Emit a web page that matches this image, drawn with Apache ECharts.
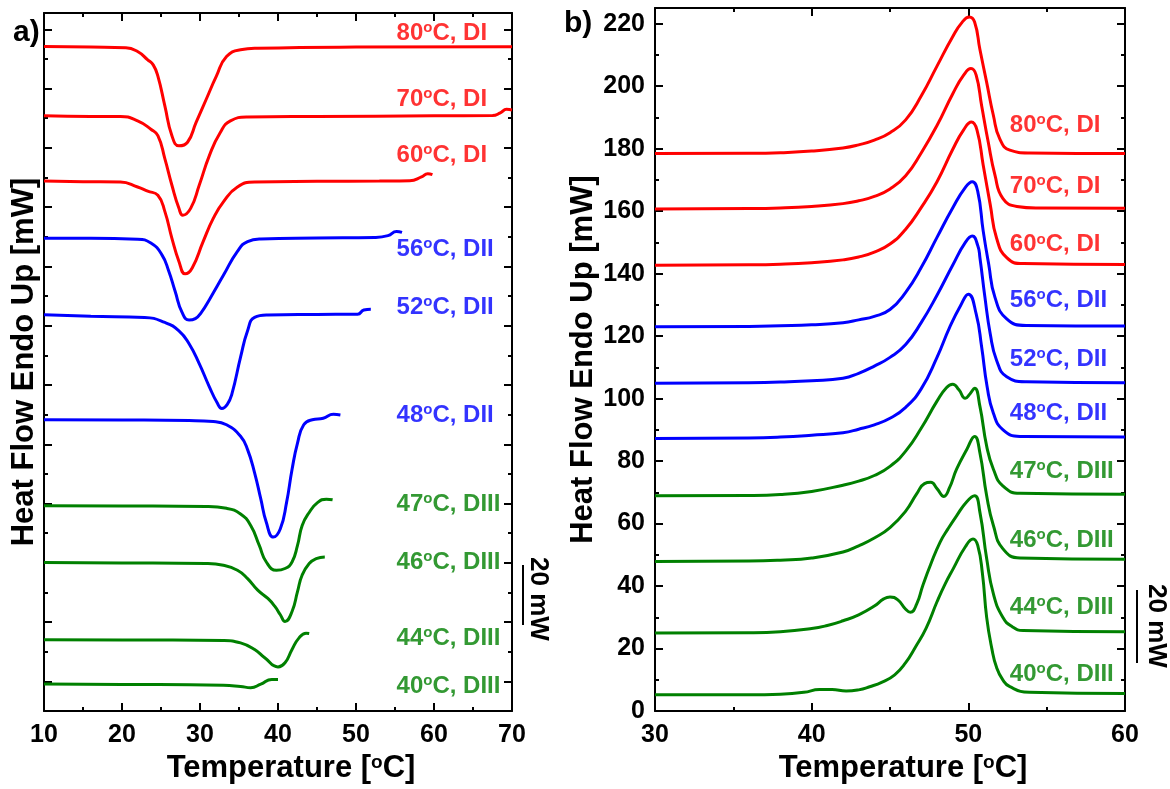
<!DOCTYPE html>
<html>
<head>
<meta charset="utf-8">
<script src="https://cdn.jsdelivr.net/npm/echarts@6/dist/echarts.min.js"></script>
<style>
  html, body { margin: 0; padding: 0; background: #fff; }
  #main { width: 1170px; height: 789px; }
</style>
</head>
<body>
<div id="main"></div>
<script>
// curve names (top to bottom)
var temps = ['80', '70', '60', '56', '52', '48', '47', '46', '44', '40'];
var phases = ['DI', 'DI', 'DI', 'DII', 'DII', 'DII', 'DIII', 'DIII', 'DIII', 'DIII'];

// a) cooling scans: [temperature, heat flow (offset, arb. units)]
var a80 = [[10,224.2],[16,224.0],[20.5,223.8],[22,222.5],[23.3,219.7],[24.0,218.0],[24.6,214.2],[25.5,204.1],[26.4,194.1],[27.3,190.7],[28.4,191.9],[29.5,198.6],[30.8,206.4],[32.1,214.2],[33.4,220.8],[35.2,223.1],[37.4,223.6],[50,224.0],[70,224.1]];
var a70 = [[10,200.8],[16,200.6],[19.8,200.6],[22,199.1],[23.7,196.3],[24.6,194.1],[25.5,186.3],[26.4,177.4],[27.3,169.6],[27.8,167.3],[28.8,169.6],[29.9,177.4],[31.2,187.4],[32.6,195.2],[33.9,199.1],[36.1,200.4],[45,200.6],[60,200.8],[67.5,200.9],[68.5,201.8],[69.3,203.0],[70,202.8]];
var a60 = [[10,178.8],[15,178.6],[19.8,178.5],[22,176.8],[23.3,175.4],[24.6,174.0],[25.5,168.5],[26.4,159.5],[27.3,151.7],[28.1,147.5],[29.0,149.5],[30.4,158.4],[31.7,166.2],[33.0,171.8],[34.8,176.8],[37.0,178.5],[45,178.7],[53,178.8],[56.9,178.9],[58.4,180.2],[59.2,181.3],[59.8,181.0]];
var a56 = [[10,159.5],[16,159.5],[22,159.2],[23.7,157.9],[25.1,154.0],[26.0,148.4],[26.8,141.7],[27.7,134.5],[28.6,131.9],[29.4,132.4],[30.2,134.6],[31.2,138.8],[33.0,147.0],[34.8,155.1],[36.1,158.4],[37.8,159.3],[45,159.6],[52.4,159.8],[54.1,160.4],[55.2,161.8],[55.9,161.5]];
var a52 = [[10,133.7],[16,133.2],[22.9,132.8],[25.5,131.1],[27.3,128.3],[28.6,123.9],[29.9,117.2],[31.2,109.4],[32.2,104.0],[32.8,102.1],[33.5,103.5],[34.1,107.1],[35.2,119.4],[36.1,128.3],[37.0,132.8],[38.7,133.6],[45,133.8],[50.2,133.9],[51.0,135.3],[51.9,135.6]];
var a48 = [[10,98.3],[20,98.2],[28.6,98.0],[31.7,97.7],[33.4,96.6],[35.2,92.7],[36.1,88.2],[37.0,80.4],[37.8,71.5],[38.5,63.7],[39.4,58.7],[40.3,61.5],[41.1,70.4],[41.8,81.5],[42.5,90.4],[43.3,96.6],[44.4,98.3],[45.8,98.8],[47.1,100.1],[48.0,99.9]];
var a47 = [[10,69.3],[20,69.2],[30.8,69.0],[33.4,68.4],[35.2,66.5],[36.5,62.6],[37.6,55.9],[38.5,50.3],[39.8,47.5],[40.9,48.1],[41.8,50.3],[42.5,55.9],[43.1,62.6],[44.0,67.0],[45.1,70.4],[46.2,71.5],[47.0,71.3]];
var a46 = [[10,50.1],[20,50.0],[30.8,49.8],[33.0,49.2],[34.8,47.5],[36.1,44.7],[37.4,40.8],[38.7,38.0],[39.6,35.3],[40.3,32.5],[40.9,30.2],[41.8,33.6],[42.5,40.3],[43.1,45.9],[44.0,49.8],[44.9,51.4],[46.0,52.0]];
var a44 = [[10,24.1],[20,24.0],[33.0,23.8],[35.2,23.0],[37.0,20.8],[38.3,18.0],[40.0,14.9],[40.9,16.3],[41.8,20.8],[42.7,24.7],[43.6,26.3],[44.0,26.2]];
var a40 = [[10,9.1],[20,9.0],[33.0,8.7],[35.2,8.3],[36.5,7.9],[37.8,9.1],[39.2,10.7],[40.0,10.7]];

// b) heating scans: [temperature, heat flow in mW]
var b80 = [[30,178.4],[36,178.5],[38,178.7],[40,179.2],[42,180.2],[43,181.2],[44,182.7],[45,185.1],[46,189.2],[47,196.9],[48,206.4],[49,215.8],[49.6,220.4],[50.06,222.1],[50.4,220.5],[50.74,211.7],[51.17,201.2],[51.6,190.6],[52.0,183.2],[52.65,179.5],[53.9,178.6],[60,178.4]];
var b70 = [[30,160.7],[36,160.8],[38,161.0],[40,161.5],[42,162.4],[43,163.3],[44,164.7],[45,167.1],[46,171.3],[47,178.7],[48,187.4],[49,197.5],[49.7,203.5],[50.17,205.6],[50.5,203.5],[50.85,193.7],[51.27,182.1],[51.7,171.5],[52.2,164.1],[53.1,161.5],[54.4,161.0],[60,160.9]];
var b60 = [[30,142.7],[36,142.8],[38,143.0],[40,143.5],[42,144.4],[43,145.3],[44,146.9],[45,149.5],[46,154.2],[47,161.2],[48,169.4],[49,179.7],[49.7,186.0],[50.2,188.5],[50.55,186.0],[50.95,174.7],[51.4,162.0],[51.8,151.4],[52.45,145.1],[53.5,143.2],[60,142.9]];
var b56 = [[30,123.0],[36,123.1],[38,123.3],[40,123.6],[42,124.3],[43,125.2],[44,126.3],[45,128.5],[46,134.0],[47,142.0],[48,151.6],[49,161.0],[49.8,167.5],[50.25,169.4],[50.6,166.3],[50.95,153.6],[51.3,143.0],[51.7,132.4],[52.45,125.5],[53.7,123.4],[60,123.2]];
var b52 = [[30,104.9],[36,105.1],[38,105.3],[40,105.7],[42,106.5],[43,108.1],[44,110.4],[45,113.2],[46,117.3],[47,124.4],[48,133.1],[49,142.7],[49.8,149.9],[50.25,152.0],[50.6,149.0],[50.74,145.1],[51.06,132.4],[51.4,120.7],[51.8,112.3],[52.45,107.0],[53.7,105.4],[60,105.1]];
var b48 = [[30,87.2],[36,87.4],[38,87.7],[40,88.3],[42,89.1],[43,90.2],[44,91.6],[45,93.7],[46,97.2],[47,103.2],[48,113.2],[48.8,122.7],[49.5,129.7],[50.0,133.4],[50.5,127.1],[50.85,116.5],[51.2,103.8],[51.6,95.3],[52.2,90.1],[53.3,87.9],[60,87.7]];
var b47 = [[30,68.9],[36,69.0],[38,69.3],[40,70.3],[42,72.3],[43,73.6],[44,75.4],[45,78.3],[46,83.2],[47,90.6],[48,99.2],[48.6,103.5],[49.0,104.6],[49.4,102.8],[49.8,100.1],[50.1,101.5],[50.4,103.3],[50.74,97.5],[51.17,84.8],[51.6,77.4],[52.2,72.1],[53.3,69.7],[60,69.4]];
var b46 = [[30,47.9],[36,48.0],[38,48.3],[40,49.0],[42,50.9],[43,52.9],[44,55.4],[45,58.7],[46,64.0],[46.7,69.5],[47.2,72.8],[47.6,73.2],[48.0,71.2],[48.44,68.7],[48.8,71.5],[49.25,77.4],[49.9,83.7],[50.4,87.9],[50.74,82.6],[51.17,68.9],[51.6,59.4],[52.2,52.0],[53.3,49.0],[60,48.6]];
var b44 = [[30,25.0],[36,25.1],[38,25.4],[40,26.4],[41,27.4],[42,28.9],[43,30.8],[44,33.6],[44.6,35.9],[45.0,36.5],[45.5,35.6],[46.0,32.6],[46.3,31.6],[46.7,34.2],[47.1,40.3],[47.6,47.0],[48.2,54.1],[48.7,58.3],[49.25,62.5],[49.9,67.0],[50.4,68.9],[50.74,63.6],[51.17,48.8],[51.6,37.5],[52.2,30.0],[52.8,27.0],[53.5,25.8],[60,25.4]];
var b40 = [[30,5.2],[36,5.2],[38,5.4],[39.5,6.0],[40.5,6.9],[41.3,6.9],[42.2,6.4],[43.0,6.8],[43.7,7.8],[44.5,9.3],[45.3,11.6],[46.0,15.5],[46.6,20.3],[47.3,26.5],[48.0,35.0],[48.5,40.5],[49.04,45.6],[49.8,52.5],[50.3,55.1],[50.6,53.0],[50.9,44.0],[51.17,30.0],[51.5,20.0],[51.8,14.0],[52.2,10.0],[52.65,7.8],[53.9,6.0],[60,5.6]];

// where the curve names sit (left edge temperature, vertical centre)
var aLabelT = 55.2;
var aLabelY = [228.7, 206.4, 187.4, 155.6, 136.1, 99.9, 69.8, 50.3, 24.6, 8.4];
var bLabelT = 52.65;
var bLabelY = [187.3, 167.9, 149.2, 131.4, 112.7, 95.2, 76.8, 54.6, 33.3, 11.7];

// axis ticks
var aYMajor = [10, 30, 50, 70, 90, 110, 130, 150, 170, 190, 210, 230];
var aYMinor = [20, 40, 60, 80, 100, 120, 140, 160, 180, 200, 220];
var bYMajor = [0, 20, 40, 60, 80, 100, 120, 140, 160, 180, 200, 220];
var bYMinor = [10, 30, 50, 70, 90, 110, 130, 150, 170, 190, 210];

var aCurves = [a80, a70, a60, a56, a52, a48, a47, a46, a44, a40];
var bCurves = [b80, b70, b60, b56, b52, b48, b47, b46, b44, b40];

var FONT = 'Liberation Sans, Arial, sans-serif';
var phaseColor = { DI: '#ff0000', DII: '#0000ff', DIII: '#008000' };
var axisLine = { show: true, onZero: false, lineStyle: { color: '#000', width: 2 } };
var supStyle = { fontSize: 15, fontWeight: 'bold', fontFamily: FONT, verticalAlign: 'top', lineHeight: 14 };

function xAxisDef(grid, pos, min, max, withLabels) {
  var ax = {
    type: 'value', gridIndex: grid, position: pos, min: min, max: max, interval: 10,
    axisLine: axisLine,
    axisTick: { show: true, inside: true, length: 8, lineStyle: { color: '#000', width: 2 } },
    minorTick: { show: true, splitNumber: 2, length: 4, lineStyle: { color: '#000', width: 2 } },
    axisLabel: { show: withLabels, fontSize: 25, fontWeight: 'bold', color: '#000', fontFamily: FONT, margin: 12 },
    splitLine: { show: false },
    minorSplitLine: { show: false }
  };
  if (withLabels) {
    ax.name = 'Temperature [{s|o}C]';
    ax.nameLocation = 'middle';
    ax.nameGap = 36;
    ax.nameTextStyle = {
      fontSize: 31, fontWeight: 'bold', color: '#000', fontFamily: FONT,
      padding: [0, 0, 0, 26],
      rich: { s: { fontSize: 19, fontWeight: 'bold', fontFamily: FONT, verticalAlign: 'top', lineHeight: 18 } }
    };
  }
  return ax;
}

function yAxisDef(grid, pos, min, max, ticks, len, showLine, labels) {
  return {
    type: 'value', gridIndex: grid, position: pos, min: min, max: max,
    axisLine: showLine ? axisLine : { show: false, onZero: false },
    axisTick: { show: true, inside: true, length: len, customValues: ticks, lineStyle: { color: '#000', width: 2 } },
    axisLabel: labels
      ? { show: true, customValues: labels, fontSize: 25, fontWeight: 'bold', color: '#000', fontFamily: FONT, margin: 10 }
      : { show: false },
    splitLine: { show: false }
  };
}

function labelText(i) {
  return '{t|' + temps[i] + '}{s|o}{t|C, ' + phases[i] + '}';
}

function buildSeries(curves, xIdx, yIdx, labelT, labelY) {
  var out = curves.map(function (d, i) {
    return {
      type: 'line', xAxisIndex: xIdx, yAxisIndex: yIdx, data: d,
      showSymbol: false, smooth: 0.5, silent: true,
      lineStyle: { color: phaseColor[phases[i]], width: 3 },
      itemStyle: { color: phaseColor[phases[i]] }
    };
  });
  out.push({
    type: 'scatter', xAxisIndex: xIdx, yAxisIndex: yIdx, symbolSize: 0, silent: true,
    data: labelY.map(function (y, i) {
      return { value: [labelT, y], label: { color: phaseColor[phases[i]] } };
    }),
    label: {
      show: true, position: 'right', distance: 0,
      formatter: function (p) { return labelText(p.dataIndex); },
      rich: {
        t: { fontSize: 24, fontWeight: 'bold', fontFamily: FONT, lineHeight: 26 },
        s: supStyle
      }
    }
  });
  return out;
}

var yName = {
  name: 'Heat Flow Endo Up [mW]', nameLocation: 'middle', nameRotate: 90,
  nameTextStyle: { fontSize: 31, fontWeight: 'bold', color: '#000', fontFamily: FONT }
};

var yA = yAxisDef(0, 'left', 0, 235.5, aYMajor, 8, true, null);
Object.assign(yA, yName, { nameGap: 4 });
var yB = yAxisDef(1, 'left', 0, 225, bYMajor, 8, true, bYMajor);
Object.assign(yB, yName, { nameGap: 55 });

var chart = echarts.init(document.getElementById('main'));
chart.setOption({
  animation: false,
  backgroundColor: '#fff',
  grid: [
    { left: 44, right: 658, top: 13, bottom: 72 },
    { left: 655, right: 45, top: 8, bottom: 72 }
  ],
  xAxis: [
    xAxisDef(0, 'bottom', 10, 70, true),
    xAxisDef(0, 'top', 10, 70, false),
    xAxisDef(1, 'bottom', 30, 60, true),
    xAxisDef(1, 'top', 30, 60, false)
  ],
  yAxis: [
    yA,
    yAxisDef(0, 'left', 0, 235.5, aYMinor, 4, false, null),
    yAxisDef(0, 'right', 0, 235.5, aYMajor, 8, true, null),
    yAxisDef(0, 'right', 0, 235.5, aYMinor, 4, false, null),
    yB,
    yAxisDef(1, 'left', 0, 225, bYMinor, 4, false, null),
    yAxisDef(1, 'right', 0, 225, bYMajor, 8, true, null),
    yAxisDef(1, 'right', 0, 225, bYMinor, 4, false, null)
  ],
  series: buildSeries(aCurves, 0, 0, aLabelT, aLabelY)
    .concat(buildSeries(bCurves, 2, 4, bLabelT, bLabelY)),
  graphic: [
    { type: 'text', x: 13, y: 33, style: { text: 'a)', font: 'bold 30px ' + FONT, fill: '#000', verticalAlign: 'middle' } },
    { type: 'text', x: 564, y: 24, style: { text: 'b)', font: 'bold 30px ' + FONT, fill: '#000', verticalAlign: 'middle' } },
    // 20 mW scale bars
    { type: 'line', shape: { x1: 523, y1: 565, x2: 523, y2: 625 }, style: { stroke: '#000', lineWidth: 2 } },
    { type: 'text', x: 538, y: 599, rotation: -Math.PI / 2,
      style: { text: '20 mW', font: 'bold 26px ' + FONT, fill: '#000', align: 'center', verticalAlign: 'middle' } },
    { type: 'line', shape: { x1: 1137, y1: 590, x2: 1137, y2: 663 }, style: { stroke: '#000', lineWidth: 2 } },
    { type: 'text', x: 1156, y: 626, rotation: -Math.PI / 2,
      style: { text: '20 mW', font: 'bold 26px ' + FONT, fill: '#000', align: 'center', verticalAlign: 'middle' } }
  ]
});
</script>
</body>
</html>
